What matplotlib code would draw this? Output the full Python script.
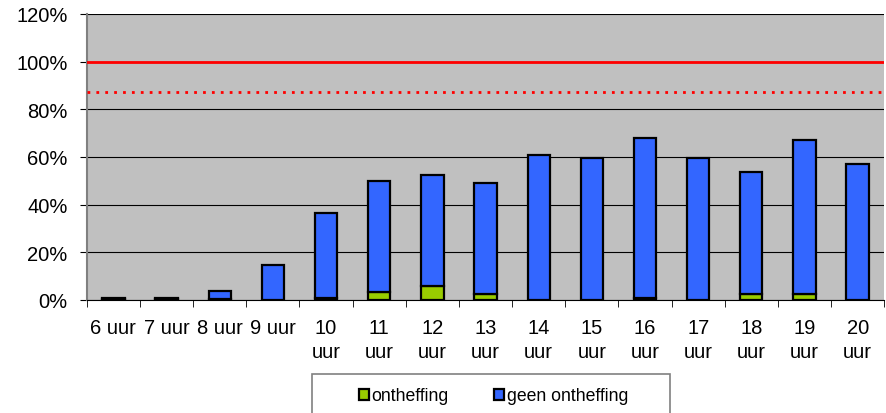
import matplotlib.pyplot as plt
from matplotlib.patches import Rectangle
import numpy as np

plt.rcParams['font.family'] = ['Liberation Sans', 'DejaVu Sans']

uren = ['6 uur', '7 uur', '8 uur', '9 uur', '10\nuur', '11\nuur', '12\nuur', '13\nuur',
        '14\nuur', '15\nuur', '16\nuur', '17\nuur', '18\nuur', '19\nuur', '20\nuur']
ontheffing = [0.3, 0.3, 0.5, 0, 0.8, 3.5, 6.0, 2.5, 0, 0, 1.0, 0, 2.5, 2.5, 0]
totaal = [1.0, 1.0, 3.8, 14.7, 36.5, 50.0, 52.5, 49.0, 61.0, 59.6, 68.0, 59.6, 53.7, 67.0, 57.0]
geen_ontheffing = [t - o for t, o in zip(totaal, ontheffing)]
norm = 100
norm_87 = 87.3

fig = plt.figure(figsize=(8.86, 4.14), dpi=100)
ax = fig.add_axes([0.098, 0.273, 0.9, 0.691])
ax.set_facecolor('#C0C0C0')

x = np.arange(len(uren))
b1 = ax.bar(x, ontheffing, width=0.42, color='#99CC00', edgecolor='black', linewidth=1.6, zorder=3, label='ontheffing')
b2 = ax.bar(x, geen_ontheffing, bottom=ontheffing, width=0.42, color='#3366FF', edgecolor='black', linewidth=1.6, zorder=3, label='geen ontheffing')

ax.axhline(norm, color='#FF0000', linewidth=2, zorder=4)
ax.axhline(norm_87, color='#FF0000', linewidth=2, linestyle=(0, (1, 2.2)), zorder=4)

ax.set_xlim(-0.5, len(uren) - 0.5)
ax.set_ylim(0, 120)
ax.set_yticks(range(0, 121, 20))
ax.set_yticklabels([f'{v}%' for v in range(0, 121, 20)], fontsize=14.5)
ax.yaxis.grid(True, color='black', linewidth=0.8, zorder=1)
ax.set_axisbelow(True)

ax.set_xticks(x)
ax.set_xticklabels(uren, fontsize=14.5, linespacing=1.35)
ax.set_xticks(np.arange(-0.5, len(uren), 1), minor=True)
ax.tick_params(axis='x', which='major', length=0, pad=13)
ax.tick_params(axis='x', which='minor', length=5, color='black')
ax.tick_params(axis='y', length=5, color='black', pad=9)

for s in ['top', 'right']:
    ax.spines[s].set_visible(False)
ax.spines['left'].set_color('#808080')
ax.spines['left'].set_linewidth(1.5)
ax.spines['bottom'].set_color('black')

fig.patches.append(Rectangle((312 / 886, -0.05), 358 / 886, 0.05 + 1 - 375 / 414,
                             transform=fig.transFigure, facecolor='white',
                             edgecolor='#808080', linewidth=1.2, zorder=1))
fig.legend(handles=[b1, b2], loc='center', bbox_to_anchor=(0.557, 1 - 397 / 414), ncol=2,
           fontsize=12.7, frameon=False, handlelength=0.55, handleheight=0.55,
           handletextpad=0.15, columnspacing=2.6, borderpad=0, borderaxespad=0)

fig.savefig('out.png', dpi=100)
